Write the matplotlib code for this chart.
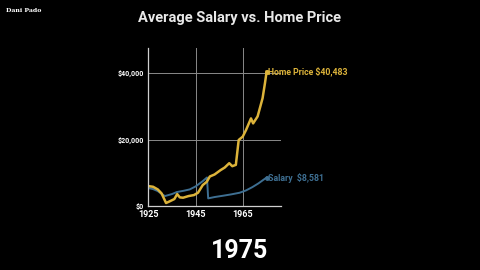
import matplotlib.pyplot as plt
from matplotlib.ticker import FuncFormatter

# values (year, dollars)
home_years = [1925, 1927, 1929, 1930.6, 1932.5, 1934, 1936, 1937.2, 1938.3, 1939.7,
              1942, 1944.3, 1946, 1948, 1949.7, 1951, 1953, 1955.5, 1957.3, 1959.2,
              1960.5, 1962, 1963.2, 1964.9, 1966.3, 1968.4, 1969.3, 1971.2, 1973.3,
              1974.3, 1975]
home_price = [6000, 5800, 5000, 3800, 900, 1400, 2100, 3600, 2600, 2500,
              3000, 3300, 4000, 6300, 7300, 8900, 9500, 10800, 11600, 12900,
              12000, 12400, 19900, 20900, 22900, 26400, 24900, 27000, 32500,
              37000, 40483]

salary_years = [1925, 1927, 1929, 1930.5, 1932, 1935, 1937, 1940, 1942.5, 1945,
                1948, 1949.8, 1950.3, 1953, 1956.6, 1960, 1963.6, 1966.3, 1969,
                1971.5, 1975]
salary = [5400, 5100, 4500, 3700, 3000, 3600, 4200, 4600, 5000, 5900,
          7500, 8600, 2300, 2700, 3100, 3500, 4000, 4700, 5700, 6800, 8581]

x_ticks = [1925, 1945, 1965]
y_ticks = [0, 20000, 40000]

gold = '#dcb33a'
blue = '#3e6f92'

plt.rcParams['font.family'] = ['Roboto', 'DejaVu Sans']

fig = plt.figure(figsize=(4.8, 2.7), dpi=100, facecolor='black')
ax = fig.add_axes([0.309, 0.237, 0.276, 0.585], facecolor='black')

ax.plot(salary_years, salary, color=blue, lw=1.4, solid_joinstyle='round')
ax.plot(home_years, home_price, color=gold, lw=1.8, solid_joinstyle='round')
ax.plot(home_years[-1], home_price[-1], 'o', color=gold, ms=2.5)
ax.plot(salary_years[-1], salary[-1], 'o', color=blue, ms=2.5)

ax.text(home_years[-1] + 0.8, home_price[-1], f'Home Price ${home_price[-1]:,}',
        color=gold, fontsize=6.3, fontweight='bold', va='center', clip_on=False)
ax.text(salary_years[-1] + 0.8, salary[-1], f'Salary  ${salary[-1]:,}',
        color=blue, fontsize=6.3, fontweight='bold', va='center', clip_on=False)

ax.set_xlim(1925, 1981)
ax.set_ylim(0, 47600)
ax.set_xticks(x_ticks)
ax.set_yticks(y_ticks)
ax.yaxis.set_major_formatter(FuncFormatter(lambda v, p: f'${v:,.0f}'))
ax.grid(True, color='#8a8a8a', lw=0.7)
ax.set_axisbelow(True)
for side in ['top', 'right']:
    ax.spines[side].set_visible(False)
for side in ['left', 'bottom']:
    ax.spines[side].set_color('#d0d0d0')
    ax.spines[side].set_linewidth(0.9)
ax.tick_params(colors='white', length=0)
ax.tick_params(axis='x', pad=3)
ax.tick_params(axis='y', pad=3)
for lbl in ax.get_yticklabels():
    lbl.set_fontsize(5)
    lbl.set_fontweight('bold')
for lbl in ax.get_xticklabels():
    lbl.set_fontsize(6.5)
    lbl.set_fontweight('bold')

fig.text(0.5, 0.935, 'Average Salary vs. Home Price', color='#e8e8e8',
         fontsize=10.5, fontweight='bold', ha='center', va='center')
fig.text(0.5, 0.07, '1975', color='white', fontsize=18, fontweight='bold',
         ha='center', va='center')
fig.text(0.012, 0.96, 'Dani Pado', color='white', fontsize=4.5, fontweight='bold',
         family='DejaVu Serif', ha='left', va='center')

fig.savefig('out.png', dpi=100, facecolor='black')
